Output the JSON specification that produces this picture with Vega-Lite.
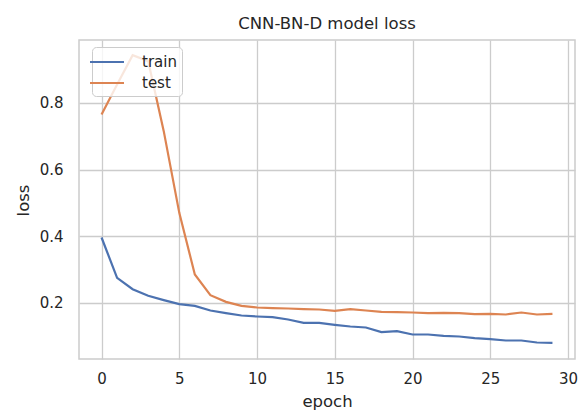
{
  "$schema": "https://vega.github.io/schema/vega-lite/v6.json",
  "width": 496,
  "height": 319,
  "autosize": "none",
  "padding": {"left": 79, "top": 40, "right": 6, "bottom": 51},
  "background": "white",
  "title": {
    "text": "CNN-BN-D model loss",
    "font": "DejaVu Sans",
    "fontSize": 16.5,
    "fontWeight": "normal",
    "color": "#262626",
    "anchor": "middle",
    "baseline": "alphabetic",
    "offset": -5
  },
  "config": {
    "view": {"stroke": "#cccccc", "strokeWidth": 1.5},
    "font": "DejaVu Sans"
  },
  "data": {
    "values": [
      {"epoch": 0, "loss": 0.396, "series": "train"},
      {"epoch": 1, "loss": 0.275, "series": "train"},
      {"epoch": 2, "loss": 0.241, "series": "train"},
      {"epoch": 3, "loss": 0.221, "series": "train"},
      {"epoch": 4, "loss": 0.208, "series": "train"},
      {"epoch": 5, "loss": 0.196, "series": "train"},
      {"epoch": 6, "loss": 0.191, "series": "train"},
      {"epoch": 7, "loss": 0.177, "series": "train"},
      {"epoch": 8, "loss": 0.169, "series": "train"},
      {"epoch": 9, "loss": 0.162, "series": "train"},
      {"epoch": 10, "loss": 0.159, "series": "train"},
      {"epoch": 11, "loss": 0.157, "series": "train"},
      {"epoch": 12, "loss": 0.150, "series": "train"},
      {"epoch": 13, "loss": 0.140, "series": "train"},
      {"epoch": 14, "loss": 0.140, "series": "train"},
      {"epoch": 15, "loss": 0.134, "series": "train"},
      {"epoch": 16, "loss": 0.129, "series": "train"},
      {"epoch": 17, "loss": 0.126, "series": "train"},
      {"epoch": 18, "loss": 0.112, "series": "train"},
      {"epoch": 19, "loss": 0.115, "series": "train"},
      {"epoch": 20, "loss": 0.105, "series": "train"},
      {"epoch": 21, "loss": 0.105, "series": "train"},
      {"epoch": 22, "loss": 0.101, "series": "train"},
      {"epoch": 23, "loss": 0.099, "series": "train"},
      {"epoch": 24, "loss": 0.094, "series": "train"},
      {"epoch": 25, "loss": 0.091, "series": "train"},
      {"epoch": 26, "loss": 0.087, "series": "train"},
      {"epoch": 27, "loss": 0.087, "series": "train"},
      {"epoch": 28, "loss": 0.081, "series": "train"},
      {"epoch": 29, "loss": 0.080, "series": "train"},
      {"epoch": 0, "loss": 0.765, "series": "test"},
      {"epoch": 1, "loss": 0.855, "series": "test"},
      {"epoch": 2, "loss": 0.943, "series": "test"},
      {"epoch": 3, "loss": 0.925, "series": "test"},
      {"epoch": 4, "loss": 0.715, "series": "test"},
      {"epoch": 5, "loss": 0.470, "series": "test"},
      {"epoch": 6, "loss": 0.285, "series": "test"},
      {"epoch": 7, "loss": 0.223, "series": "test"},
      {"epoch": 8, "loss": 0.203, "series": "test"},
      {"epoch": 9, "loss": 0.191, "series": "test"},
      {"epoch": 10, "loss": 0.186, "series": "test"},
      {"epoch": 11, "loss": 0.184, "series": "test"},
      {"epoch": 12, "loss": 0.183, "series": "test"},
      {"epoch": 13, "loss": 0.181, "series": "test"},
      {"epoch": 14, "loss": 0.180, "series": "test"},
      {"epoch": 15, "loss": 0.176, "series": "test"},
      {"epoch": 16, "loss": 0.181, "series": "test"},
      {"epoch": 17, "loss": 0.177, "series": "test"},
      {"epoch": 18, "loss": 0.173, "series": "test"},
      {"epoch": 19, "loss": 0.172, "series": "test"},
      {"epoch": 20, "loss": 0.171, "series": "test"},
      {"epoch": 21, "loss": 0.169, "series": "test"},
      {"epoch": 22, "loss": 0.170, "series": "test"},
      {"epoch": 23, "loss": 0.169, "series": "test"},
      {"epoch": 24, "loss": 0.166, "series": "test"},
      {"epoch": 25, "loss": 0.167, "series": "test"},
      {"epoch": 26, "loss": 0.165, "series": "test"},
      {"epoch": 27, "loss": 0.171, "series": "test"},
      {"epoch": 28, "loss": 0.165, "series": "test"},
      {"epoch": 29, "loss": 0.167, "series": "test"}
    ]
  },
  "mark": {"type": "line", "strokeWidth": 2.2, "clip": true},
  "encoding": {
    "x": {
      "field": "epoch",
      "type": "quantitative",
      "scale": {"domain": [-1.45, 30.45], "nice": false, "zero": false},
      "axis": {
        "title": "epoch",
        "values": [0, 5, 10, 15, 20, 25, 30],
        "format": "d",
        "grid": true,
        "gridColor": "#cccccc",
        "gridWidth": 1.3,
        "domain": false,
        "ticks": false,
        "labelFont": "DejaVu Sans",
        "labelFontSize": 15,
        "labelColor": "#262626",
        "labelPadding": 12,
        "titleFont": "DejaVu Sans",
        "titleFontSize": 16.5,
        "titleFontWeight": "normal",
        "titleColor": "#262626",
        "titleBaseline": "alphabetic",
        "titleY": 47.6
      }
    },
    "y": {
      "field": "loss",
      "type": "quantitative",
      "scale": {"domain": [0.0315, 0.9885], "nice": false, "zero": false},
      "axis": {
        "title": "loss",
        "values": [0.2, 0.4, 0.6, 0.8],
        "format": ".1f",
        "grid": true,
        "gridColor": "#cccccc",
        "gridWidth": 1.3,
        "domain": false,
        "ticks": false,
        "labelFont": "DejaVu Sans",
        "labelFontSize": 15,
        "labelColor": "#262626",
        "labelPadding": 16,
        "titleFont": "DejaVu Sans",
        "titleFontSize": 16.5,
        "titleFontWeight": "normal",
        "titleColor": "#262626",
        "titleBaseline": "alphabetic",
        "titleAngle": -90,
        "titleX": -50.7,
        "titleY": 160
      }
    },
    "color": {
      "field": "series",
      "type": "nominal",
      "scale": {"domain": ["train", "test"], "range": ["#4C72B0", "#DD8452"]},
      "legend": {
        "title": null,
        "orient": "none",
        "legendX": 13,
        "legendY": 7,
        "symbolType": "M-2,0H2",
        "symbolSize": 289,
        "symbolStrokeWidth": 2.2,
        "labelFont": "DejaVu Sans",
        "labelFontSize": 15,
        "labelColor": "#262626",
        "labelOffset": 25,
        "fillColor": "rgba(255,255,255,0.8)",
        "strokeColor": "#cccccc",
        "cornerRadius": 4,
        "padding": 5,
        "rowPadding": 3
      }
    }
  }
}
